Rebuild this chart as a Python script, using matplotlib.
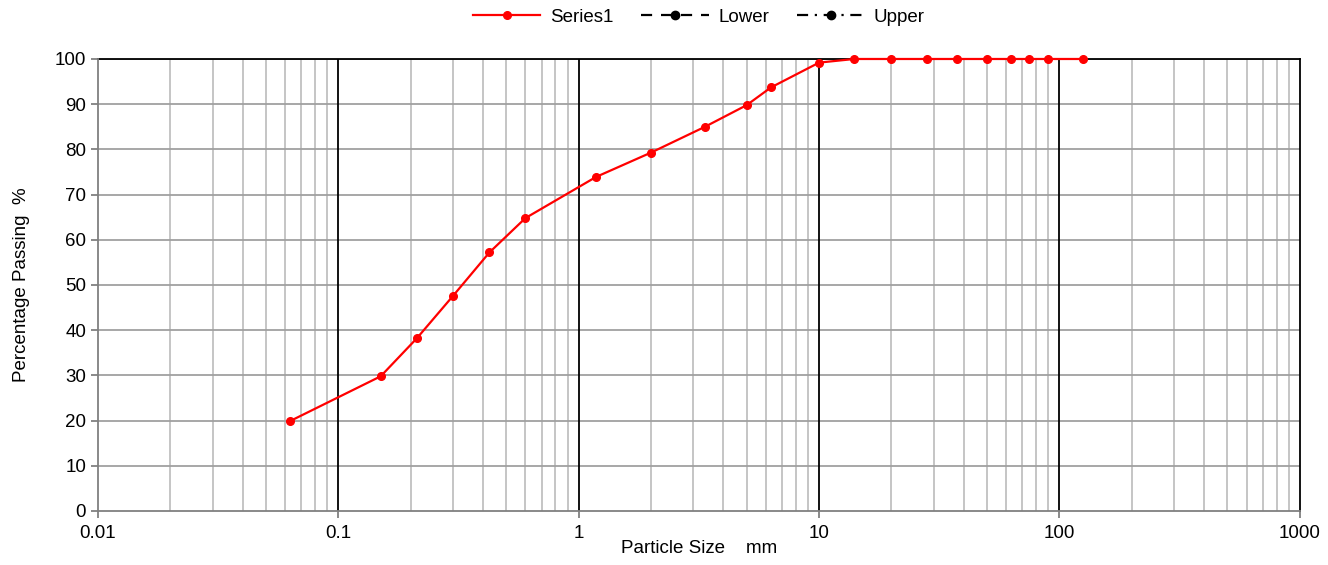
import numpy as np
import matplotlib
matplotlib.use("Agg")
import matplotlib.pyplot as plt
from matplotlib.ticker import FixedLocator, NullFormatter

plt.rcParams["font.family"] = ["Liberation Sans", "DejaVu Sans"]

# sieve sizes (mm) and percentage passing
sizes = [0.063, 0.15, 0.212, 0.3, 0.425, 0.6, 1.18, 2.0, 3.35, 5.0, 6.3, 10.0,
         14.0, 20.0, 28.0, 37.5, 50.0, 63.0, 75.0, 90.0, 125.0]
passing = [19.9, 29.8, 38.2, 47.6, 57.2, 64.8, 73.9, 79.3, 85.0, 89.8, 93.7, 99.2,
           100, 100, 100, 100, 100, 100, 100, 100, 100]
lower_sizes = []
lower_passing = []
upper_sizes = []
upper_passing = []

x_ticks = [0.01, 0.1, 1, 10, 100, 1000]
x_tick_labels = ["0.01", "0.1", "1", "10", "100", "1000"]
y_ticks = list(range(0, 101, 10))

fig = plt.figure(figsize=(13.28, 5.65), dpi=100)
ax = fig.add_axes([0.0738, 0.0956, 0.9050, 0.8000])

ax.set_xscale("log")
ax.set_xlim(0.01, 1000)
ax.set_ylim(0, 100)

# grid: minor grey, decade lines black
minor = [m * 10.0 ** e for e in range(-2, 3) for m in range(2, 10)]
for v in minor:
    ax.axvline(v, color="#c0c0c0", linewidth=1.3, zorder=0)
for v in x_ticks[1:-1]:
    ax.axvline(v, color="black", linewidth=1.3, zorder=1)
for v in y_ticks[1:]:
    ax.axhline(v, color="#a0a0a0", linewidth=1.3, zorder=0)

ax.plot(sizes, passing, color="#ff0000", linewidth=1.6, marker="o",
        markersize=5.5, label="Series1", zorder=4, clip_on=False)
ax.plot(lower_sizes, lower_passing, color="black", linewidth=1.6, linestyle=(0, (5, 4)),
        marker="o", markersize=6, label="Lower")
ax.plot(upper_sizes, upper_passing, color="black", linewidth=1.6, linestyle=(0, (5, 3, 1, 3)),
        marker="o", markersize=6, label="Upper")

ax.xaxis.set_major_locator(FixedLocator(x_ticks))
ax.set_xticklabels(x_tick_labels)
ax.xaxis.set_minor_formatter(NullFormatter())
ax.tick_params(axis="x", which="minor", length=0)
ax.set_yticks(y_ticks)
ax.tick_params(axis="both", which="major", labelsize=13.5, color="#808080",
               length=5, width=1.3)
ax.tick_params(axis="x", pad=5)

for s in ["left", "bottom"]:
    ax.spines[s].set_color("#808080")
    ax.spines[s].set_linewidth(1.3)
for s in ["top", "right"]:
    ax.spines[s].set_color("black")
    ax.spines[s].set_linewidth(1.3)
    ax.spines[s].set_zorder(2)

ax.set_xlabel("Particle Size    mm", fontsize=13.5, labelpad=-1)
ax.set_ylabel("Percentage Passing  %", fontsize=13.5, labelpad=18)

ax.legend(loc="lower center", bbox_to_anchor=(0.5, 1.04), ncol=3, frameon=False,
          fontsize=13.5, handlelength=3.6, columnspacing=1.5, handletextpad=0.5,
          borderaxespad=0.4)

fig.savefig("out.png", dpi=100)
